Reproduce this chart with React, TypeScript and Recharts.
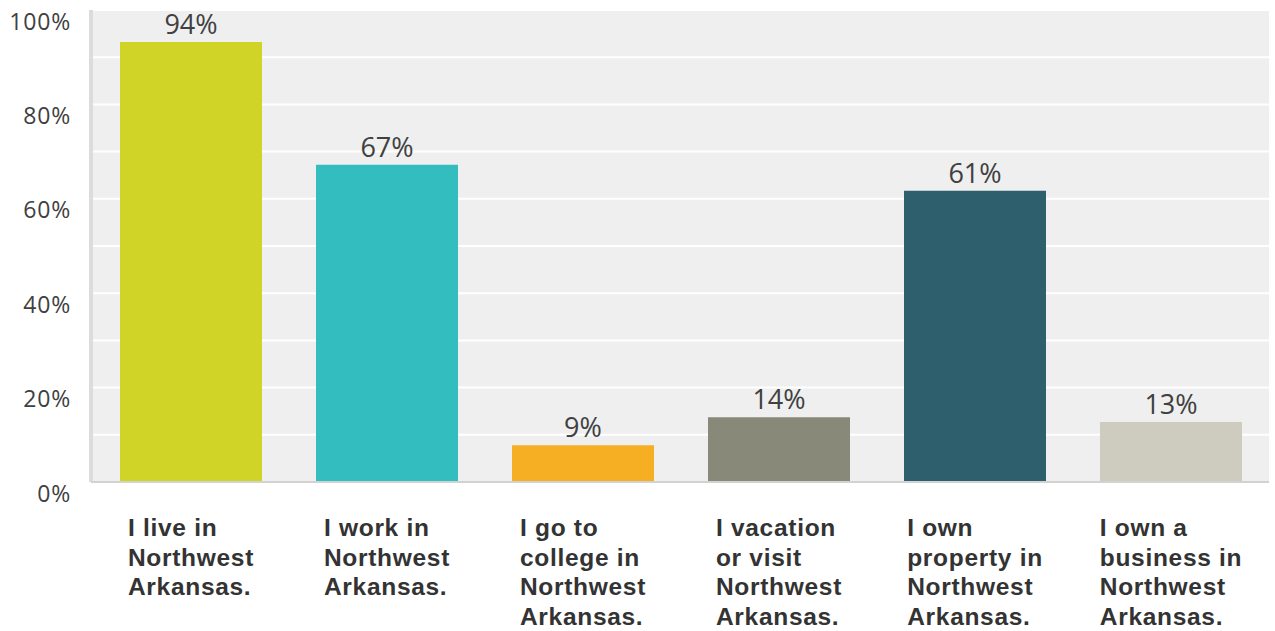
import React from 'react';
import { BarChart, Bar, XAxis, YAxis, CartesianGrid, Cell, LabelList } from 'recharts';

const categories = [
  'I live in\nNorthwest\nArkansas.',
  'I work in\nNorthwest\nArkansas.',
  'I go to\ncollege in\nNorthwest\nArkansas.',
  'I vacation\nor visit\nNorthwest\nArkansas.',
  'I own\nproperty in\nNorthwest\nArkansas.',
  'I own a\nbusiness in\nNorthwest\nArkansas.',
];
const values = [93.2, 67.2, 7.8, 13.7, 61.7, 12.7];
const valueLabels = ['94%', '67%', '9%', '14%', '61%', '13%'];
const barColors = ['#cfd427', '#33bdbf', '#f6af22', '#888979', '#2e5f6c', '#cdccbf'];
const yTicks = [0, 10, 20, 30, 40, 50, 60, 70, 80, 90, 100];

const data = categories.map((c, i) => ({ name: c, value: values[i], label: valueLabels[i] }));

const X_FONT_SIZE = 24.5;
const X_LETTER_SPACING = 0.7;
const X_FONT = `700 ${X_FONT_SIZE}px "Liberation Sans", Arial, sans-serif`;

let measureCtx: CanvasRenderingContext2D | null = null;
function measure(text: string): number {
  if (typeof document === 'undefined') return text.length * 13;
  if (!measureCtx) {
    const c = document.createElement('canvas');
    measureCtx = c.getContext('2d');
  }
  if (!measureCtx) return text.length * 13;
  measureCtx.font = X_FONT;
  return measureCtx.measureText(text).width + X_LETTER_SPACING * text.length;
}

const YTick = (props: any) => {
  const { y, payload } = props;
  if (payload.value % 20 !== 0) return null;
  return (
    <text x={71} y={y + 19.5} textAnchor="end" fill="#404040"
      style={{ fontFamily: '"Open Sans", sans-serif', fontSize: 23, letterSpacing: 0.8 }}>
      {payload.value}%
    </text>
  );
};

const XTick = (props: any) => {
  const { x, payload } = props;
  const lines = String(payload.value).split('\n');
  const maxW = Math.max(...lines.map(measure));
  const left = x - maxW / 2;
  return (
    <text x={left} y={536} textAnchor="start" fill="#333333"
      style={{ fontFamily: '"Liberation Sans", Arial, sans-serif', fontSize: X_FONT_SIZE, fontWeight: 700, letterSpacing: X_LETTER_SPACING }}>
      {lines.map((l, i) => (
        <tspan key={i} x={left} y={536 + i * 29.5}>{l}</tspan>
      ))}
    </text>
  );
};

const ValueLabel = (props: any) => {
  const { x, y, width, value } = props;
  return (
    <text x={x + width / 2} y={y - 8} textAnchor="middle" fill="#404040"
      style={{ fontFamily: '"Open Sans", sans-serif', fontSize: 27 }}>
      {value}
    </text>
  );
};

export default function App() {
  return (
    <div style={{ position: 'absolute', left: 0, top: 0, background: '#ffffff' }}>
      <BarChart width={1275} height={631} data={data}
        margin={{ top: 10, right: 6, left: 0, bottom: 0 }}>
        <CartesianGrid vertical={false} horizontal={true} fill="#efefef" stroke="#ffffff" strokeWidth={2} />
        <YAxis width={91} domain={[0, 100]} ticks={yTicks} interval={0}
          axisLine={{ stroke: '#dcdcdc', strokeWidth: 4 }} tickLine={false} tick={<YTick />} />
        <XAxis dataKey="name" height={149} interval={0} padding={{ left: 2, right: 0 }}
          axisLine={{ stroke: '#d2d2d2', strokeWidth: 2 }} tickLine={false} tick={<XTick />} />
        <Bar dataKey="value" barSize={142} isAnimationActive={false}>
          {data.map((d, i) => (
            <Cell key={i} fill={barColors[i]} />
          ))}
          <LabelList dataKey="label" content={<ValueLabel />} />
        </Bar>
      </BarChart>
    </div>
  );
}
